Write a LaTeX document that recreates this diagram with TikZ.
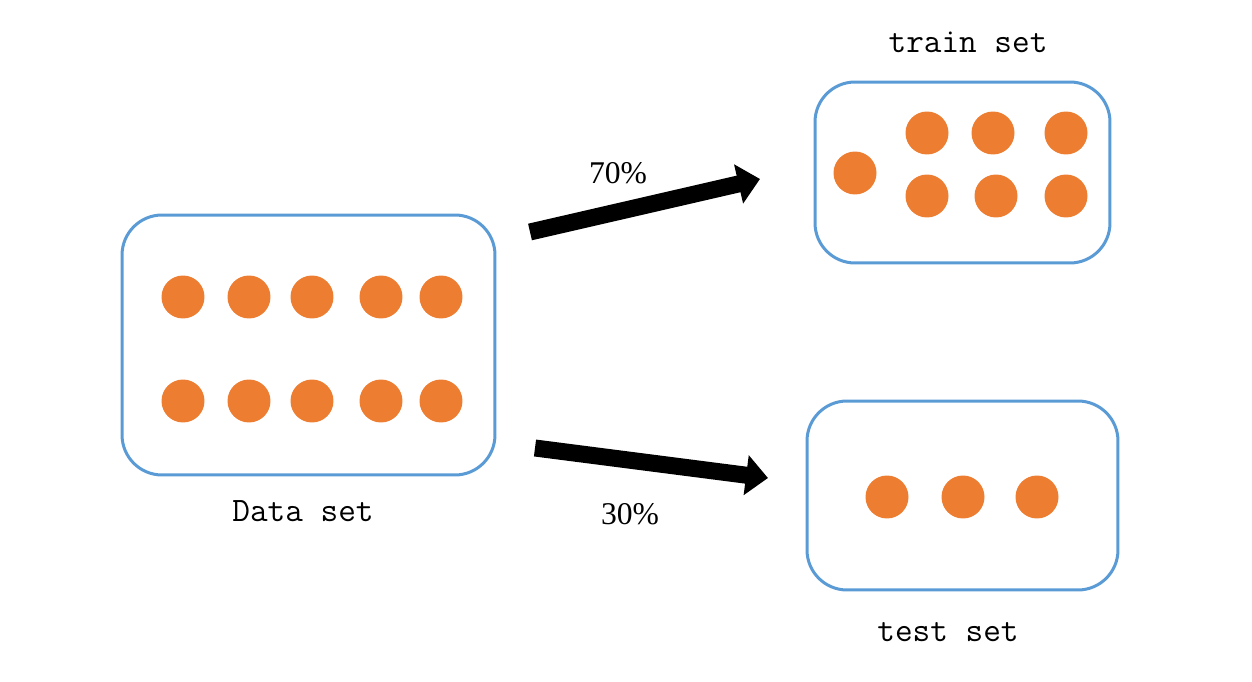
\documentclass[tikz,border=0pt]{standalone}
\usepackage{fontspec}
\setmainfont{Liberation Serif}
\usepackage{xcolor}
\usepackage{tikz}
\usetikzlibrary{arrows.meta, positioning}
\definecolor{setblue}{RGB}{91,155,213}
\definecolor{dotorange}{RGB}{237,125,49}

\begin{document}
\begin{tikzpicture}[
  x=0.02cm, y=-0.02cm,
  setbox/.style={draw=setblue, line width=0.06cm, rounded corners=0.8cm,
                 inner sep=0pt},
  dot/.style={circle, fill=dotorange, minimum size=0.86cm, inner sep=0pt},
  setlabel/.style={font=\ttfamily\fontsize{19.5}{22}\selectfont, inner sep=2pt},
  share/.style={font=\fontsize{18}{20}\selectfont, inner sep=2pt},
  bigarrow/.style={line width=0.34cm,
                   -{Triangle[length=0.44cm, width=0.78cm]}},
]
\useasboundingbox (0,0) rectangle (1252,682);

% the three sets
\node[setbox, minimum width=7.46cm, minimum height=5.2cm] (data) at (308.5,345) {};
\node[setbox, minimum width=5.9cm, minimum height=3.62cm] (train) at (962.5,172.5) {};
\node[setbox, minimum width=6.22cm, minimum height=3.78cm] (test) at (962.5,495.5) {};

% samples
\foreach \x [count=\i] in {183,249,312,381,441} {
  \node[dot] (d1\i) at (\x,297) {};
  \node[dot] (d2\i) at (\x,401) {};
}
\node[dot] (t0) at (855,173) {};
\foreach \x/\xx [count=\i] in {927/927,993/996,1066/1066} {
  \node[dot] (t1\i) at (\x,133) {};
  \node[dot] (t2\i) at (\xx,196) {};
}
\foreach \x [count=\i] in {887,963,1037}
  \node[dot] (s\i) at (\x,497) {};

% labels
\node[setlabel] (datalabel) at (303,511) {Data set};
\node[setlabel] (trainlabel) at (968,42) {train set};
\node[setlabel] (testlabel) at (948,632) {test set};

% split
\coordinate (up0) at (530,232);
\coordinate (up1) at (760,179);
\coordinate (lo0) at (535,448);
\coordinate (lo1) at (768,478);
\draw[bigarrow] (up0) -- (up1);
\draw[bigarrow] (lo0) -- (lo1);
\node[share] (p70) at (618,173) {70\%};
\node[share] (p30) at (630,514) {30\%};
\end{tikzpicture}
\end{document}
